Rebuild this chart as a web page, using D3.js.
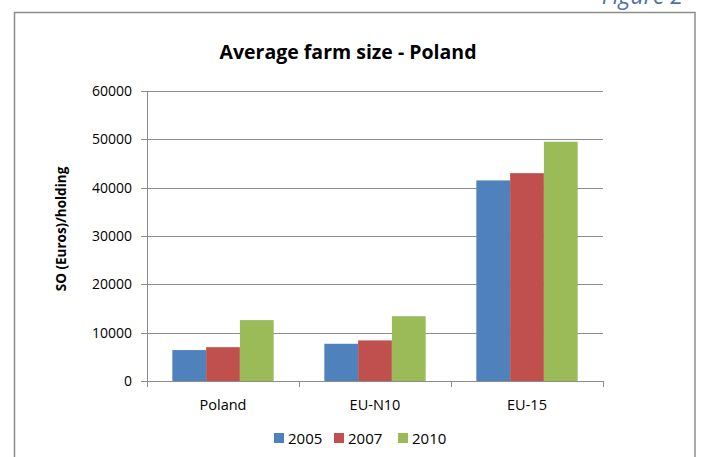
<!DOCTYPE html>
<html lang="en">
<head>
    <meta charset="UTF-8">
    <title>Average farm size - Poland</title>
    <style>
        body {
            margin: 0;
            padding: 0;
            background-color: #fff;
            overflow: hidden;
        }
        svg text {
            font-family: "Open Sans", "Noto Sans", Arial, sans-serif;
        }
    </style>
</head>
<body>
    <div id="chart"></div>

    <script src="https://d3js.org/d3.v7.min.js"></script>
    <script>
        // Data
        const categories = ['Poland', 'EU-N10', 'EU-15'];
        const years = ['2005', '2007', '2010'];
        const values2005 = [6400, 7700, 41500];
        const values2007 = [7000, 8400, 43000];
        const values2010 = [12600, 13400, 49500];
        const yTicks = [0, 10000, 20000, 30000, 40000, 50000, 60000];

        const seriesValues = [values2005, values2007, values2010];
        const colors = ['#4f81bd', '#c0504d', '#9bbb59'];

        const width = 701, height = 457;
        const plot = { left: 147, right: 603, top: 91, bottom: 381 };

        const svg = d3.select('#chart')
            .append('svg')
            .attr('width', width)
            .attr('height', height);

        // "Figure 2" caption, cut off at the top as in the page scan
        svg.append('text')
            .attr('x', 683)
            .attr('y', 4)
            .attr('text-anchor', 'end')
            .attr('font-size', '23px')
            .attr('font-style', 'italic')
            .attr('fill', '#4f6fa8')
            .text('Figure 2');

        // chart frame
        svg.append('rect')
            .attr('x', 14.5)
            .attr('y', 12.5)
            .attr('width', 680.5)
            .attr('height', 460)
            .attr('fill', 'none')
            .attr('stroke', '#8c8c8c')
            .attr('stroke-width', 1.5);

        // title
        svg.append('text')
            .attr('x', 348)
            .attr('y', 59)
            .attr('text-anchor', 'middle')
            .attr('font-size', '19.5px')
            .attr('font-weight', 'bold')
            .attr('fill', '#000')
            .text('Average farm size - Poland');

        const x0 = d3.scaleBand()
            .domain(categories)
            .range([plot.left, plot.right]);

        // gap width 150% -> three bars take 3/4.5 of each category
        const x1 = d3.scaleBand()
            .domain(years)
            .range([0, x0.bandwidth() * 3 / 4.5]);
        const groupOffset = (x0.bandwidth() - x1.range()[1]) / 2;

        const y = d3.scaleLinear()
            .domain([0, 60000])
            .range([plot.bottom, plot.top]);

        // gridlines
        svg.append('g')
            .selectAll('line')
            .data(yTicks)
            .enter().append('line')
            .attr('x1', plot.left - 6)
            .attr('x2', plot.right)
            .attr('y1', d => Math.round(y(d)) + 0.5)
            .attr('y2', d => Math.round(y(d)) + 0.5)
            .attr('stroke', '#8c8c8c')
            .attr('stroke-width', 1);

        // y axis labels
        svg.append('g')
            .selectAll('text')
            .data(yTicks)
            .enter().append('text')
            .attr('x', 132)
            .attr('y', d => y(d) + 5)
            .attr('text-anchor', 'end')
            .attr('font-size', '14px')
            .attr('fill', '#000')
            .text(d => d);

        // y axis title
        svg.append('text')
            .attr('transform', 'translate(66,229) rotate(-90)')
            .attr('text-anchor', 'middle')
            .attr('font-size', '13.5px')
            .attr('font-weight', 'bold')
            .attr('fill', '#000')
            .text('SO (Euros)/holding');

        // bars
        const groups = svg.append('g')
            .selectAll('g')
            .data(categories)
            .enter().append('g')
            .attr('transform', d => `translate(${x0(d) + groupOffset},0)`);

        groups.selectAll('rect')
            .data((d, i) => years.map((yr, s) => ({ yr, value: seriesValues[s][i], s })))
            .enter().append('rect')
            .attr('x', d => x1(d.yr))
            .attr('y', d => y(d.value))
            .attr('width', x1.bandwidth())
            .attr('height', d => y(0) - y(d.value))
            .attr('fill', d => colors[d.s]);

        // axis lines
        svg.append('line')
            .attr('x1', plot.left + 0.5).attr('x2', plot.left + 0.5)
            .attr('y1', plot.top).attr('y2', plot.bottom)
            .attr('stroke', '#8c8c8c');

        svg.append('line')
            .attr('x1', plot.left).attr('x2', plot.right)
            .attr('y1', plot.bottom + 0.5).attr('y2', plot.bottom + 0.5)
            .attr('stroke', '#8c8c8c');

        // category ticks
        const catEdges = categories.map(c => x0(c)).concat([plot.right]);
        svg.append('g')
            .selectAll('line')
            .data(catEdges)
            .enter().append('line')
            .attr('x1', d => Math.round(d) + 0.5)
            .attr('x2', d => Math.round(d) + 0.5)
            .attr('y1', plot.bottom)
            .attr('y2', plot.bottom + 6)
            .attr('stroke', '#8c8c8c');

        // category labels
        svg.append('g')
            .selectAll('text')
            .data(categories)
            .enter().append('text')
            .attr('x', d => x0(d) + x0.bandwidth() / 2)
            .attr('y', 410)
            .attr('text-anchor', 'middle')
            .attr('font-size', '14.5px')
            .attr('fill', '#000')
            .text(d => d);

        // legend
        const legendX = [274, 334, 398];
        const legend = svg.append('g')
            .selectAll('g')
            .data(years)
            .enter().append('g')
            .attr('transform', (d, i) => `translate(${legendX[i]},433)`);

        legend.append('rect')
            .attr('width', 10)
            .attr('height', 10)
            .attr('fill', (d, i) => colors[i]);

        legend.append('text')
            .attr('x', 14)
            .attr('y', 10.5)
            .attr('font-size', '15px')
            .attr('fill', '#000')
            .text(d => d);
    </script>
</body>
</html>
